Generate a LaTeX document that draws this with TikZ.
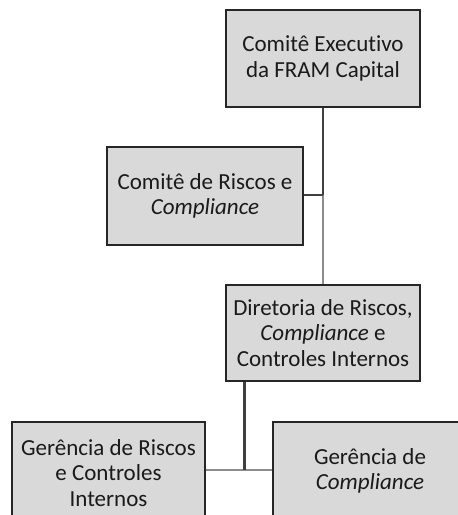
\documentclass[tikz,border=0pt]{standalone}
\usepackage{fontspec}
\setmainfont{Carlito}[Ligatures=NoCommon]
\definecolor{boxfill}{HTML}{D9D9D9}
\definecolor{boxline}{HTML}{262626}
\definecolor{darkline}{HTML}{404040}
\definecolor{greyline}{HTML}{8C8C8C}
\definecolor{txt}{HTML}{1A1A1A}
\begin{document}
\begin{tikzpicture}[x=1pt,y=-1pt,
  orgbox/.style={draw=boxline, line width=1.4pt, fill=boxfill, text=txt,
    align=center, inner sep=0pt, font=\fontsize{23}{25.7}\selectfont},
  conn/.style={draw=darkline, line width=2.2pt},
  connlight/.style={draw=greyline, line width=2.2pt}]
\useasboundingbox (0,0) rectangle (458,515);
\clip (0,0) rectangle (458,515);
\node[orgbox, minimum width=194pt, minimum height=97pt] (b1) at (323,58.5) {Comitê Executivo\\da FRAM Capital};
\node[orgbox, minimum width=196pt, minimum height=98pt] (b2) at (205,196) {Comitê de Riscos e\\\textit{Compliance}};
\node[orgbox, minimum width=194pt, minimum height=96pt] (b3) at (323,333) {Diretoria de Riscos,\\\textit{Compliance} e\\Controles Internos};
\node[orgbox, minimum width=193pt, minimum height=102pt] (b4) at (108.5,473) {Gerência de Riscos\\e Controles\\Internos};
\node[orgbox, minimum width=194pt, minimum height=98pt] (b5) at (370,471) {Gerência de\\\textit{Compliance}};
\coordinate (j1) at (323,195);
\coordinate (t3) at (244.5,381);
\coordinate (j2) at (244.5,470);
\draw[connlight] (j1) -- (b3.north);
\draw[conn] (b1.south) -- (j1);
\draw[conn] (b2.east |- j1) -- (j1);
\draw[connlight] (b4.east |- j2) -- (b5.west |- j2);
\draw[conn] (b3.south -| t3) -- (j2);
\end{tikzpicture}
\end{document}
